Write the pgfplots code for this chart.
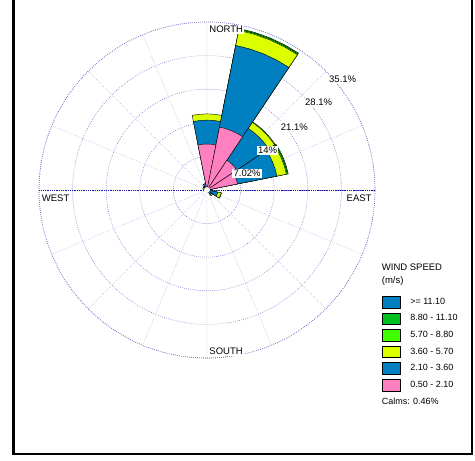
\documentclass[border=0pt]{standalone}
\usepackage{fontspec}
\setmainfont{Liberation Sans}
\usepackage{pgfplots}
\usepackage{pgfplotstable}
\pgfplotsset{compat=1.18}
\usepgfplotslibrary{polar}

\definecolor{cpink}{HTML}{FF80C0}
\definecolor{cblue}{HTML}{0080C0}
\definecolor{cyel}{HTML}{DCFF00}
\definecolor{clg}{HTML}{40FF00}
\definecolor{cdg}{HTML}{00C020}
\definecolor{ring}{HTML}{6A6AC8}
\definecolor{spoke}{HTML}{A8A8E0}
\definecolor{axisblue}{HTML}{1414A0}

% wind rose data: compass direction (deg), cumulative frequency (%)
% each class is drawn from the centre out to its cumulative value
\pgfplotstableread{
dir r
22.5 34.4
67.5 17.3
}\tdg
\pgfplotstableread{
dir r
22.5 34.2
45 17.15
67.5 17.1
112.5 3.1
}\tlg
\pgfplotstableread{
dir r
0 15.9
22.5 34.0
45 17.0
67.5 16.9
112.5 3.0
135 1.5
292.5 0.9
315 1.0
}\tyel
\pgfplotstableread{
dir r
0 14.6
22.5 30.8
45 15.5
67.5 14.9
90 1.2
112.5 2.3
135 1.2
157.5 0.6
292.5 0.6
315 0.8
337.5 1.4
}\tblue
\pgfplotstableread{
dir r
0 9.6
22.5 13.4
45 7.5
67.5 6.5
90 0.4
112.5 0.4
135 0.3
157.5 0.2
292.5 0.2
315 0.3
337.5 0.5
}\tpink

% one 22.5 degree petal
\newcommand{\petal}[3]{%
  \pgfmathsetmacro\pa{mod(90-#1+11.25+720,360)}%
  \pgfmathsetmacro\pb{mod(90-#1+5.625+720,360)}%
  \pgfmathsetmacro\pc{mod(90-#1+720,360)}%
  \pgfmathsetmacro\pd{mod(90-#1-5.625+720,360)}%
  \pgfmathsetmacro\pe{mod(90-#1-11.25+720,360)}%
  \edef\temp{\noexpand\addplot[forget plot, fill=#3, draw=black,
    line width=0.4pt, line join=round]
    coordinates {(\pa,0) (\pa,#2) (\pb,#2) (\pc,#2) (\pd,#2) (\pe,#2) (\pe,0)};}%
  \temp
}
\newcommand{\petals}[2]{%
  \pgfplotstablegetrowsof{#1}%
  \pgfmathtruncatemacro\nrows{\pgfplotsretval-1}%
  \pgfplotsforeachungrouped \i in {0,...,\nrows}{%
    \pgfplotstablegetelem{\i}{dir}\of{#1}\let\pdir\pgfplotsretval
    \pgfplotstablegetelem{\i}{r}\of{#1}\let\prad\pgfplotsretval
    \petal{\pdir}{\prad}{#2}%
  }%
}

\newcommand{\lbl}{\fontsize{9.5}{11}\selectfont}

\begin{document}
\begin{tikzpicture}[x=1pt,y=1pt]
\begin{polaraxis}[
  at={(0,0)}, anchor=origin,
  scale only axis, width=336pt, height=336pt,
  xmin=0, xmax=360, ymin=0, ymax=35.1,
  xtick={0,22.5,...,337.5},
  ytick={7.02,14.04,21.06,28.08,35.1},
  xticklabels={}, yticklabels={},
  major tick length=0pt,
  grid=major,
  major x grid style={spoke, dash pattern=on 0.6pt off 1.4pt, line width=0.5pt},
  major y grid style={ring, dash pattern=on 0.6pt off 1.4pt, line width=0.6pt},
  axis line style={ring, dash pattern=on 0.6pt off 1.4pt, line width=0.6pt},
  clip=false,
  legend image code/.code={\draw[#1,draw=black,line width=0.4pt] (0pt,-5.8pt) rectangle (17.7pt,5.8pt);},
  legend style={at={(axis description cs:1.0208,0.1854)}, anchor=north west,
    draw=none, fill=none, inner sep=0pt, row sep=4.6pt,
    font=\fontsize{9}{10}\selectfont, nodes={inner sep=0pt},
    /tikz/every odd column/.append style={column sep=10pt}},
  legend cell align=left,
]
\addlegendimage{fill=cblue}\addlegendentry{>= 11.10}
\addlegendimage{fill=cdg}\addlegendentry{8.80 - 11.10}
\addlegendimage{fill=clg}\addlegendentry{5.70 - 8.80}
\addlegendimage{fill=cyel}\addlegendentry{3.60 - 5.70}
\addlegendimage{fill=cblue}\addlegendentry{2.10 - 3.60}
\addlegendimage{fill=cpink}\addlegendentry{0.50 - 2.10}

% west-east line
\addplot[forget plot, axisblue, densely dotted, line width=0.8pt] coordinates {(0,35.1) (180,35.1)};

\petals{\tdg}{cdg}
\petals{\tlg}{clg}
\petals{\tyel}{cyel}
\petals{\tblue}{cblue}
\petals{\tpink}{cpink}

% calms circle
\addplot[forget plot, only marks, mark=*, mark size=2.7pt, mark options={fill=white, draw=white}] coordinates {(0,0)};
\end{polaraxis}

\node[anchor=west, fill=white, inner sep=1pt, font=\lbl] at (1.3,160.3) {NORTH};
\node[anchor=west, fill=white, inner sep=1pt, font=\lbl] at (1.3,-161.2) {SOUTH};
\node[anchor=west, inner sep=1pt, font=\lbl] at (-166.3,-8.3) {WEST};
\node[anchor=east, inner sep=1pt, font=\lbl] at (165.7,-8.3) {EAST};

\node[anchor=west, fill=white, inner sep=1.2pt, font=\lbl] at (120.8,110.8) {35.1\%};
\node[anchor=west, fill=white, inner sep=1.2pt, font=\lbl] at (96.8,87.5) {28.1\%};
\node[anchor=west, fill=white, inner sep=1.2pt, font=\lbl] at (72.5,63.2) {21.1\%};
\node[anchor=west, fill=white, inner sep=1.2pt, font=\lbl] at (49.7,39.5) {14\%};
\node[anchor=west, fill=white, inner sep=1.2pt, font=\lbl] at (25.3,16.3) {7.02\%};

\node[anchor=west, inner sep=0pt, font=\lbl] at (174.7,-77.5) {WIND SPEED};
\node[anchor=west, inner sep=0pt, font=\lbl] at (174.7,-91) {(m/s)};
\node[anchor=west, inner sep=0pt, font=\fontsize{9}{10}\selectfont] at (174.7,-211) {Calms: 0.46\%};

\draw[line width=2.6pt, black] (-193.3,195) -- (-193.3,-264) -- (265.2,-264) -- (265.2,195);
\pgfresetboundingbox
\path[use as bounding box] (-207,-271) rectangle (268,190);
\end{tikzpicture}
\end{document}
